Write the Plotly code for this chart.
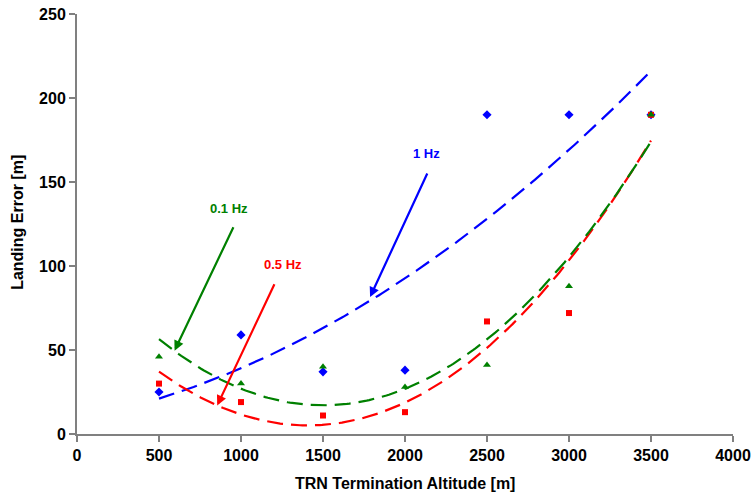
import numpy as np
import plotly.graph_objects as go

# Termination altitudes [m]
altitude = [500, 1000, 1500, 2000, 2500, 3000, 3500]

# Landing error [m] per TRN update rate
err_1hz = [25, 59, 37, 38, 190, 190, 190]
err_05hz = [30, 19, 11, 13, 67, 72, 190]
err_01hz = [46, 30, 40, 28, 41, 88, 190]

x_ticks = [0, 500, 1000, 1500, 2000, 2500, 3000, 3500, 4000]
y_ticks = [0, 50, 100, 150, 200, 250]

FONT = "Liberation Sans, Arial, sans-serif"

series = [
    ("1 Hz", err_1hz, "#0000FF", "diamond", 7),
    ("0.5 Hz", err_05hz, "#FF0000", "square", 6),
    ("0.1 Hz", err_01hz, "#008000", "triangle-up", 7),
]

fig = go.Figure()

# second-order polynomial trend line through each series
xs = np.linspace(min(altitude), max(altitude), 200)
for name, vals, color, sym, size in series:
    coef = np.polyfit(altitude, vals, 2)
    fig.add_trace(go.Scatter(
        x=xs, y=np.polyval(coef, xs), mode="lines",
        line=dict(color=color, width=2.2, dash="16px,8px"),
        hoverinfo="skip", showlegend=False,
    ))

for name, vals, color, sym, size in series:
    fig.add_trace(go.Scatter(
        x=altitude, y=vals, mode="markers", name=name,
        marker=dict(color=color, symbol=sym, size=size, line=dict(width=0)),
        showlegend=False,
    ))

# callout arrows: (label, text pos, arrow tail, arrow tip, colour)
callouts = [
    ("1 Hz", (2134, 167), (2140, 156), (1787, 81.5), "#0000FF"),
    ("0.1 Hz", (928, 134.5), (958, 124), (595, 49.6), "#008000"),
    ("0.5 Hz", (1257, 101), (1208, 90), (855, 17), "#FF0000"),
]
for text, (tx, ty), (ax, ay), (hx, hy), color in callouts:
    fig.add_annotation(
        x=hx, y=hy, ax=ax, ay=ay, xref="x", yref="y", axref="x", ayref="y",
        text="", showarrow=True, arrowhead=2, arrowsize=0.9, arrowwidth=2.2,
        arrowcolor=color, standoff=0, startstandoff=0,
    )
    fig.add_annotation(
        x=tx, y=ty, xref="x", yref="y", text=f"<b>{text}</b>",
        showarrow=False, font=dict(family=FONT, size=13, color=color),
    )

# axis titles
fig.add_annotation(
    x=0.5, y=-0.117, xref="paper", yref="paper", yanchor="middle",
    text="<b>TRN Termination Altitude [m]</b>", showarrow=False,
    font=dict(family=FONT, size=16, color="black"),
)
fig.add_annotation(
    x=-0.09, y=0.505, xref="paper", yref="paper", xanchor="center",
    yanchor="middle", textangle=-90,
    text="<b>Landing Error [m]</b>", showarrow=False,
    font=dict(family=FONT, size=16, color="black"),
)

axis_common = dict(
    showgrid=False, zeroline=False, showline=True, linecolor="#808080",
    linewidth=2, ticks="outside", tickcolor="#808080", ticklen=6,
    tickwidth=1.5, tickfont=dict(family=FONT, size=16, color="black"),
    automargin=False,
)

fig.update_layout(
    width=753, height=502,
    margin=dict(l=77, r=20, t=14, b=68),
    paper_bgcolor="white", plot_bgcolor="white",
    xaxis=dict(
        range=[0, 4000], tickvals=x_ticks,
        ticktext=[f"<b>{v}</b>" for v in x_ticks],
        **axis_common,
    ),
    yaxis=dict(
        range=[0, 250], tickvals=y_ticks,
        ticktext=[f"<b>{v}</b>" for v in y_ticks],
        **axis_common,
    ),
)

fig.write_html("out.html")
